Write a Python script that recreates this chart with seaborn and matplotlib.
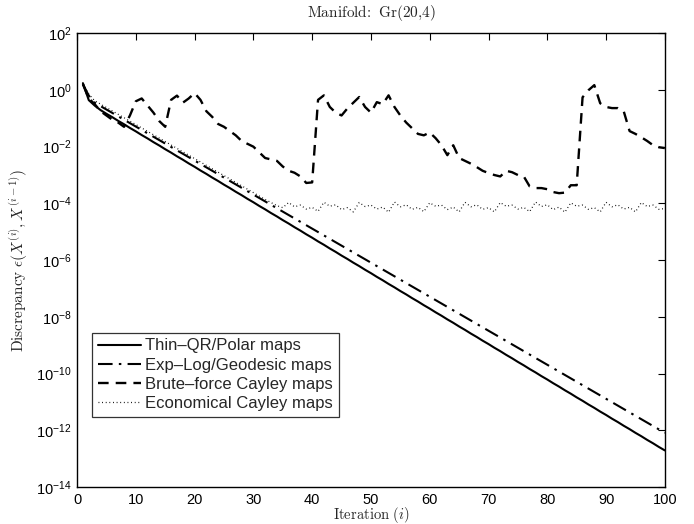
import numpy as np
import pandas as pd
import matplotlib
matplotlib.use("Agg")
import matplotlib.pyplot as plt
from matplotlib.ticker import NullLocator, FixedLocator
import seaborn as sns

# Iteration index
iterations = list(range(1, 101))

# log10 of the discrepancy between successive iterates, one list per retraction
thin_qr_log10 = [
    0.24, -0.36, -0.55, -0.71, -0.84, -0.96, -1.09, -1.21, -1.34, -1.46,
    -1.59, -1.71, -1.84, -1.96, -2.09, -2.21, -2.34, -2.46, -2.59, -2.71,
    -2.84, -2.96, -3.09, -3.21, -3.34, -3.46, -3.59, -3.71, -3.84, -3.96,
    -4.09, -4.21, -4.34, -4.46, -4.59, -4.71, -4.84, -4.96, -5.09, -5.21,
    -5.34, -5.46, -5.59, -5.71, -5.84, -5.96, -6.09, -6.21, -6.34, -6.46,
    -6.59, -6.71, -6.84, -6.96, -7.09, -7.21, -7.34, -7.46, -7.59, -7.71,
    -7.84, -7.96, -8.09, -8.21, -8.34, -8.46, -8.59, -8.71, -8.84, -8.96,
    -9.09, -9.21, -9.34, -9.46, -9.59, -9.71, -9.84, -9.96, -10.09, -10.21,
    -10.34, -10.46, -10.59, -10.71, -10.84, -10.96, -11.09, -11.21, -11.34, -11.46,
    -11.59, -11.71, -11.84, -11.96, -12.09, -12.21, -12.34, -12.46, -12.59, -12.71,
]

exp_log_log10 = [
    0.20, -0.20, -0.45, -0.57, -0.69, -0.81, -0.93, -1.05, -1.17, -1.29,
    -1.41, -1.53, -1.65, -1.77, -1.89, -2.01, -2.13, -2.25, -2.37, -2.49,
    -2.61, -2.73, -2.85, -2.97, -3.09, -3.21, -3.33, -3.45, -3.57, -3.69,
    -3.81, -3.93, -4.05, -4.17, -4.29, -4.41, -4.53, -4.65, -4.77, -4.89,
    -5.01, -5.13, -5.25, -5.37, -5.49, -5.61, -5.73, -5.85, -5.97, -6.09,
    -6.21, -6.33, -6.45, -6.57, -6.69, -6.81, -6.93, -7.05, -7.17, -7.29,
    -7.41, -7.53, -7.65, -7.77, -7.89, -8.01, -8.13, -8.25, -8.37, -8.49,
    -8.61, -8.73, -8.85, -8.97, -9.09, -9.21, -9.33, -9.45, -9.57, -9.69,
    -9.81, -9.93, -10.05, -10.17, -10.29, -10.41, -10.53, -10.65, -10.77, -10.89,
    -11.01, -11.13, -11.25, -11.37, -11.49, -11.61, -11.73, -11.85, -11.97, -12.09,
]

brute_cayley_log10 = [
    0.20, -0.30, -0.50, -0.75, -0.90, -1.05, -1.15, -1.30, -0.90, -0.40,
    -0.30, -0.55, -0.80, -1.10, -1.30, -0.35, -0.20, -0.45, -0.30, -0.11,
    -0.35, -0.75, -0.95, -1.20, -1.30, -1.45, -1.60, -1.80, -1.90, -2.00,
    -2.20, -2.40, -2.45, -2.50, -2.70, -2.85, -2.92, -3.05, -3.28, -3.26,
    -0.35, -0.19, -0.60, -0.80, -0.90, -0.65, -0.45, -0.25, -0.60, -0.80,
    -0.43, -0.50, -0.19, -0.60, -0.90, -1.15, -1.35, -1.55, -1.60, -1.50,
    -1.70, -1.95, -2.30, -1.95, -2.40, -2.50, -2.60, -2.72, -2.85, -2.93,
    -3.00, -3.05, -2.85, -2.90, -3.00, -3.05, -3.40, -3.46, -3.46, -3.50,
    -3.60, -3.64, -3.62, -3.36, -3.36, -0.26, -0.01, 0.17, -0.47, -0.60,
    -0.64, -0.64, -0.75, -1.45, -1.55, -1.67, -1.80, -1.95, -2.02, -2.05,
]

econ_cayley_log10 = [
    0.20, -0.15, -0.38, -0.50, -0.62, -0.74, -0.86, -0.98, -1.10, -1.22,
    -1.34, -1.46, -1.58, -1.70, -1.82, -1.94, -2.06, -2.18, -2.30, -2.42,
    -2.54, -2.66, -2.78, -2.90, -3.02, -3.14, -3.26, -3.38, -3.50, -3.62,
    -3.74, -3.86, -3.97, -4.08, -4.15, -3.97, -4.12, -4.06, -4.20, -4.14,
    -4.28, -3.96, -4.10, -4.05, -4.22, -4.15, -4.30, -3.97, -4.11, -4.06,
    -4.20, -4.13, -4.31, -3.95, -4.12, -4.05, -4.21, -4.14, -4.29, -3.98,
    -4.10, -4.06, -4.22, -4.13, -4.30, -3.96, -4.12, -4.05, -4.21, -4.15,
    -4.30, -3.97, -4.10, -4.06, -4.20, -4.14, -4.29, -3.95, -4.11, -4.05,
    -4.22, -4.13, -4.31, -3.98, -4.10, -4.06, -4.21, -4.15, -4.30, -3.96,
    -4.12, -4.05, -4.20, -4.14, -4.30, -3.97, -4.11, -4.06, -4.21, -4.18,
]

series_names = [
    "Thin\u2013QR/Polar maps",
    "Exp\u2013Log/Geodesic maps",
    "Brute\u2013force Cayley maps",
    "Economical Cayley maps",
]
series_log10 = [thin_qr_log10, exp_log_log10, brute_cayley_log10, econ_cayley_log10]

x_ticks = list(range(0, 101, 10))
y_tick_exponents = list(range(-14, 3, 2))

frames = []
for name, vals in zip(series_names, series_log10):
    frames.append(pd.DataFrame({
        "iteration": iterations,
        "discrepancy": np.power(10.0, np.asarray(vals)),
        "method": name,
    }))
df = pd.concat(frames, ignore_index=True)

sns.set_theme(style="white")
plt.rcParams.update({
    "font.family": ["Liberation Sans", "DejaVu Sans"],
    "mathtext.fontset": "cm",
    "xtick.direction": "in",
    "ytick.direction": "in",
    "xtick.top": True,
    "ytick.right": True,
    "axes.edgecolor": "black",
    "axes.linewidth": 1.0,
    "xtick.major.size": 5,
    "ytick.major.size": 5,
    "xtick.major.width": 0.8,
    "ytick.major.width": 0.8,
    "xtick.color": "black",
    "ytick.color": "black",
})

fig = plt.figure(figsize=(6.94, 5.24), dpi=100)
ax = fig.add_axes([0.111, 0.0706, 0.847, 0.866])

line_styles = {
    series_names[0]: dict(linestyle="-", linewidth=1.5),
    series_names[1]: dict(linestyle=(0, (7, 3, 1.2, 3)), linewidth=1.5),
    series_names[2]: dict(linestyle=(0, (4.5, 3.0)), linewidth=1.7),
    series_names[3]: dict(linestyle=(0, (0.7, 2.2)), linewidth=0.9),
}

for name in series_names:
    sns.lineplot(
        data=df[df["method"] == name], x="iteration", y="discrepancy",
        color="black", label=name, ax=ax, **line_styles[name],
    )

ax.set_yscale("log")
ax.set_xlim(0, 100)
ax.set_ylim(1e-14, 1e2)
ax.xaxis.set_major_locator(FixedLocator(x_ticks))
ax.yaxis.set_major_locator(FixedLocator([10.0 ** e for e in y_tick_exponents]))
ax.yaxis.set_minor_locator(NullLocator())
ax.xaxis.set_minor_locator(NullLocator())
ax.tick_params(axis="both", labelsize=10.5, pad=4)
for side in ["top", "right", "left", "bottom"]:
    ax.spines[side].set_visible(True)
    ax.spines[side].set_color("black")

ax.set_title(r"$\mathrm{Manifold\!:\ Gr(20{,}4)}$", fontsize=11, pad=12)
ax.set_xlabel(r"$\mathrm{Iteration}\ (i)$", fontsize=10.5, labelpad=-1)
ax.set_ylabel(r"$\mathrm{Discrepancy}\ \epsilon(X^{(i)},X^{(i-1)})$", fontsize=11, labelpad=4)

leg = ax.legend(
    loc="lower left", bbox_to_anchor=(0.025, 0.155), borderaxespad=0,
    fontsize=12, frameon=True, fancybox=False, handlelength=2.6,
    handletextpad=0.25, labelspacing=0.25, borderpad=0.35,
)
leg.get_frame().set_edgecolor("black")
leg.get_frame().set_linewidth(0.9)

fig.savefig("out.png", dpi=100, facecolor="white")
